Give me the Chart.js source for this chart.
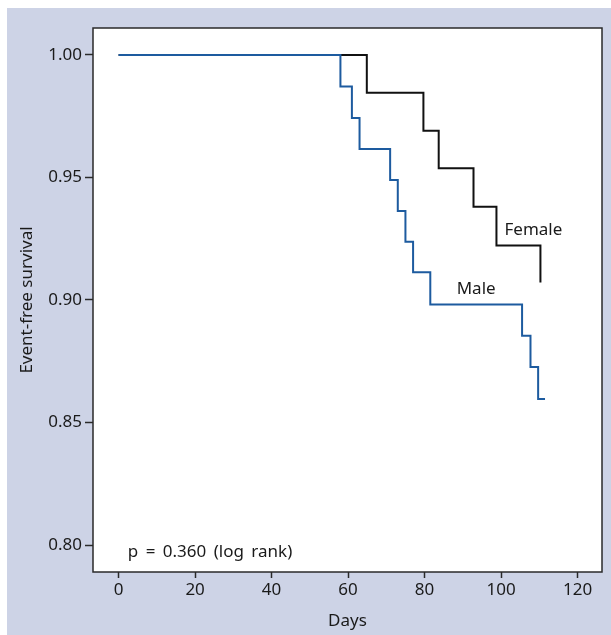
<!DOCTYPE html>
<html>
<head>
<meta charset="utf-8">
<script src="https://cdn.jsdelivr.net/npm/chart.js@4"></script>
<style>
  html, body { margin: 0; padding: 0; background: #ffffff; }
  #wrap { width: 611px; height: 635px; position: relative; }
  canvas { display: block; }
</style>
</head>
<body>
<div id="wrap"><canvas id="c" width="611" height="635"></canvas></div>
<script>
// ---- data ----
const femaleDays     = [0, 64.9, 79.7, 83.7, 92.8, 98.8, 110.3];
const femaleSurvival = [1.0, 0.9846, 0.9691, 0.9538, 0.9381, 0.9222, 0.9071];
const maleDays       = [0, 58, 61, 63, 71, 73, 75, 77, 81.5, 105.5, 107.7, 109.7, 111.5];
const maleSurvival   = [1.0, 0.9871, 0.9743, 0.9616, 0.9490, 0.9363, 0.9238, 0.9113, 0.8982, 0.8854, 0.8727, 0.8596, 0.8596];
const xTicks = [0, 20, 40, 60, 80, 100, 120];
const yTicks = [0.80, 0.85, 0.90, 0.95, 1.00];
const seriesLabels = ['Female', 'Male'];
const labelAnchors = [{x: 100.9, y: 0.9285}, {x: 88.4, y: 0.9045}];
const pText = 'p = 0.360 (log rank)';
const pAnchor = {x: 2.4, y: 0.797};

const FONT = '"Noto Sans", "Open Sans", sans-serif';
const FS = 17;
const TEXT = '#1a1a1a';
const AXIS = '#2a2a2a';

const toPts = (xs, ys) => xs.map((x, i) => ({x: x, y: ys[i]}));

const bgPlugin = {
  id: 'bg',
  beforeDraw(chart) {
    const ctx = chart.ctx, a = chart.chartArea;
    ctx.save();
    ctx.fillStyle = '#ffffff';
    ctx.fillRect(0, 0, chart.width, chart.height);
    ctx.fillStyle = '#cdd3e6';
    ctx.fillRect(7, 8, chart.width - 7, chart.height - 8);
    ctx.fillStyle = '#ffffff';
    ctx.fillRect(a.left, a.top, a.right - a.left, a.bottom - a.top);
    ctx.restore();
  },
  afterDatasetsDraw(chart) {
    const ctx = chart.ctx, a = chart.chartArea;
    const xs = chart.scales.x, ys = chart.scales.y;
    ctx.save();
    ctx.strokeStyle = AXIS;
    ctx.lineWidth = 1.5;
    ctx.strokeRect(a.left, a.top, a.right - a.left, a.bottom - a.top);
    ctx.fillStyle = TEXT;
    ctx.font = FS + 'px ' + FONT;
    ctx.textBaseline = 'middle';
    ctx.textAlign = 'left';
    seriesLabels.forEach((t, i) => {
      ctx.fillText(t, xs.getPixelForValue(labelAnchors[i].x), ys.getPixelForValue(labelAnchors[i].y));
    });
    if ('wordSpacing' in ctx) ctx.wordSpacing = '3px';
    ctx.fillText(pText, xs.getPixelForValue(pAnchor.x), ys.getPixelForValue(pAnchor.y));
    ctx.restore();
  }
};

new Chart(document.getElementById('c'), {
  type: 'line',
  data: {
    datasets: [
      {
        label: 'Female',
        data: toPts(femaleDays, femaleSurvival),
        borderColor: '#111111',
        borderWidth: 2,
        stepped: true,
        pointRadius: 0,
        fill: false,
        order: 1
      },
      {
        label: 'Male',
        data: toPts(maleDays, maleSurvival),
        borderColor: '#1d5b9f',
        borderWidth: 2,
        stepped: true,
        pointRadius: 0,
        fill: false,
        order: 0
      }
    ]
  },
  options: {
    responsive: false,
    animation: false,
    devicePixelRatio: 1,
    layout: { padding: { left: 0, top: 28, right: 9, bottom: 0 } },
    plugins: { legend: { display: false }, tooltip: { enabled: false } },
    scales: {
      x: {
        type: 'linear',
        min: -6.7,
        max: 126.4,
        afterBuildTicks(s) { s.ticks = xTicks.map(v => ({value: v})); },
        afterFit(s) { s.height = 63; },
        grid: { drawOnChartArea: false, tickLength: 6, color: AXIS, tickWidth: 1.5 },
        border: { display: false },
        ticks: { color: TEXT, font: { family: FONT, size: FS }, padding: 2, maxRotation: 0 },
        title: { display: true, text: 'Days', color: TEXT, font: { family: FONT, size: FS }, padding: { top: 0, bottom: 4 } }
      },
      y: {
        type: 'linear',
        min: 0.789,
        max: 1.011,
        afterBuildTicks(s) { s.ticks = yTicks.map(v => ({value: v})); },
        afterFit(s) { s.width = 93; },
        grid: { drawOnChartArea: false, tickLength: 8, color: AXIS, tickWidth: 1.5 },
        border: { display: false },
        ticks: { color: TEXT, font: { family: FONT, size: FS }, padding: 3, callback: v => v.toFixed(2) },
        title: { display: true, text: 'Event-free survival', color: TEXT, font: { family: FONT, size: FS }, padding: { top: 17, bottom: 0 } }
      }
    }
  },
  plugins: [bgPlugin]
});
</script>
</body>
</html>
